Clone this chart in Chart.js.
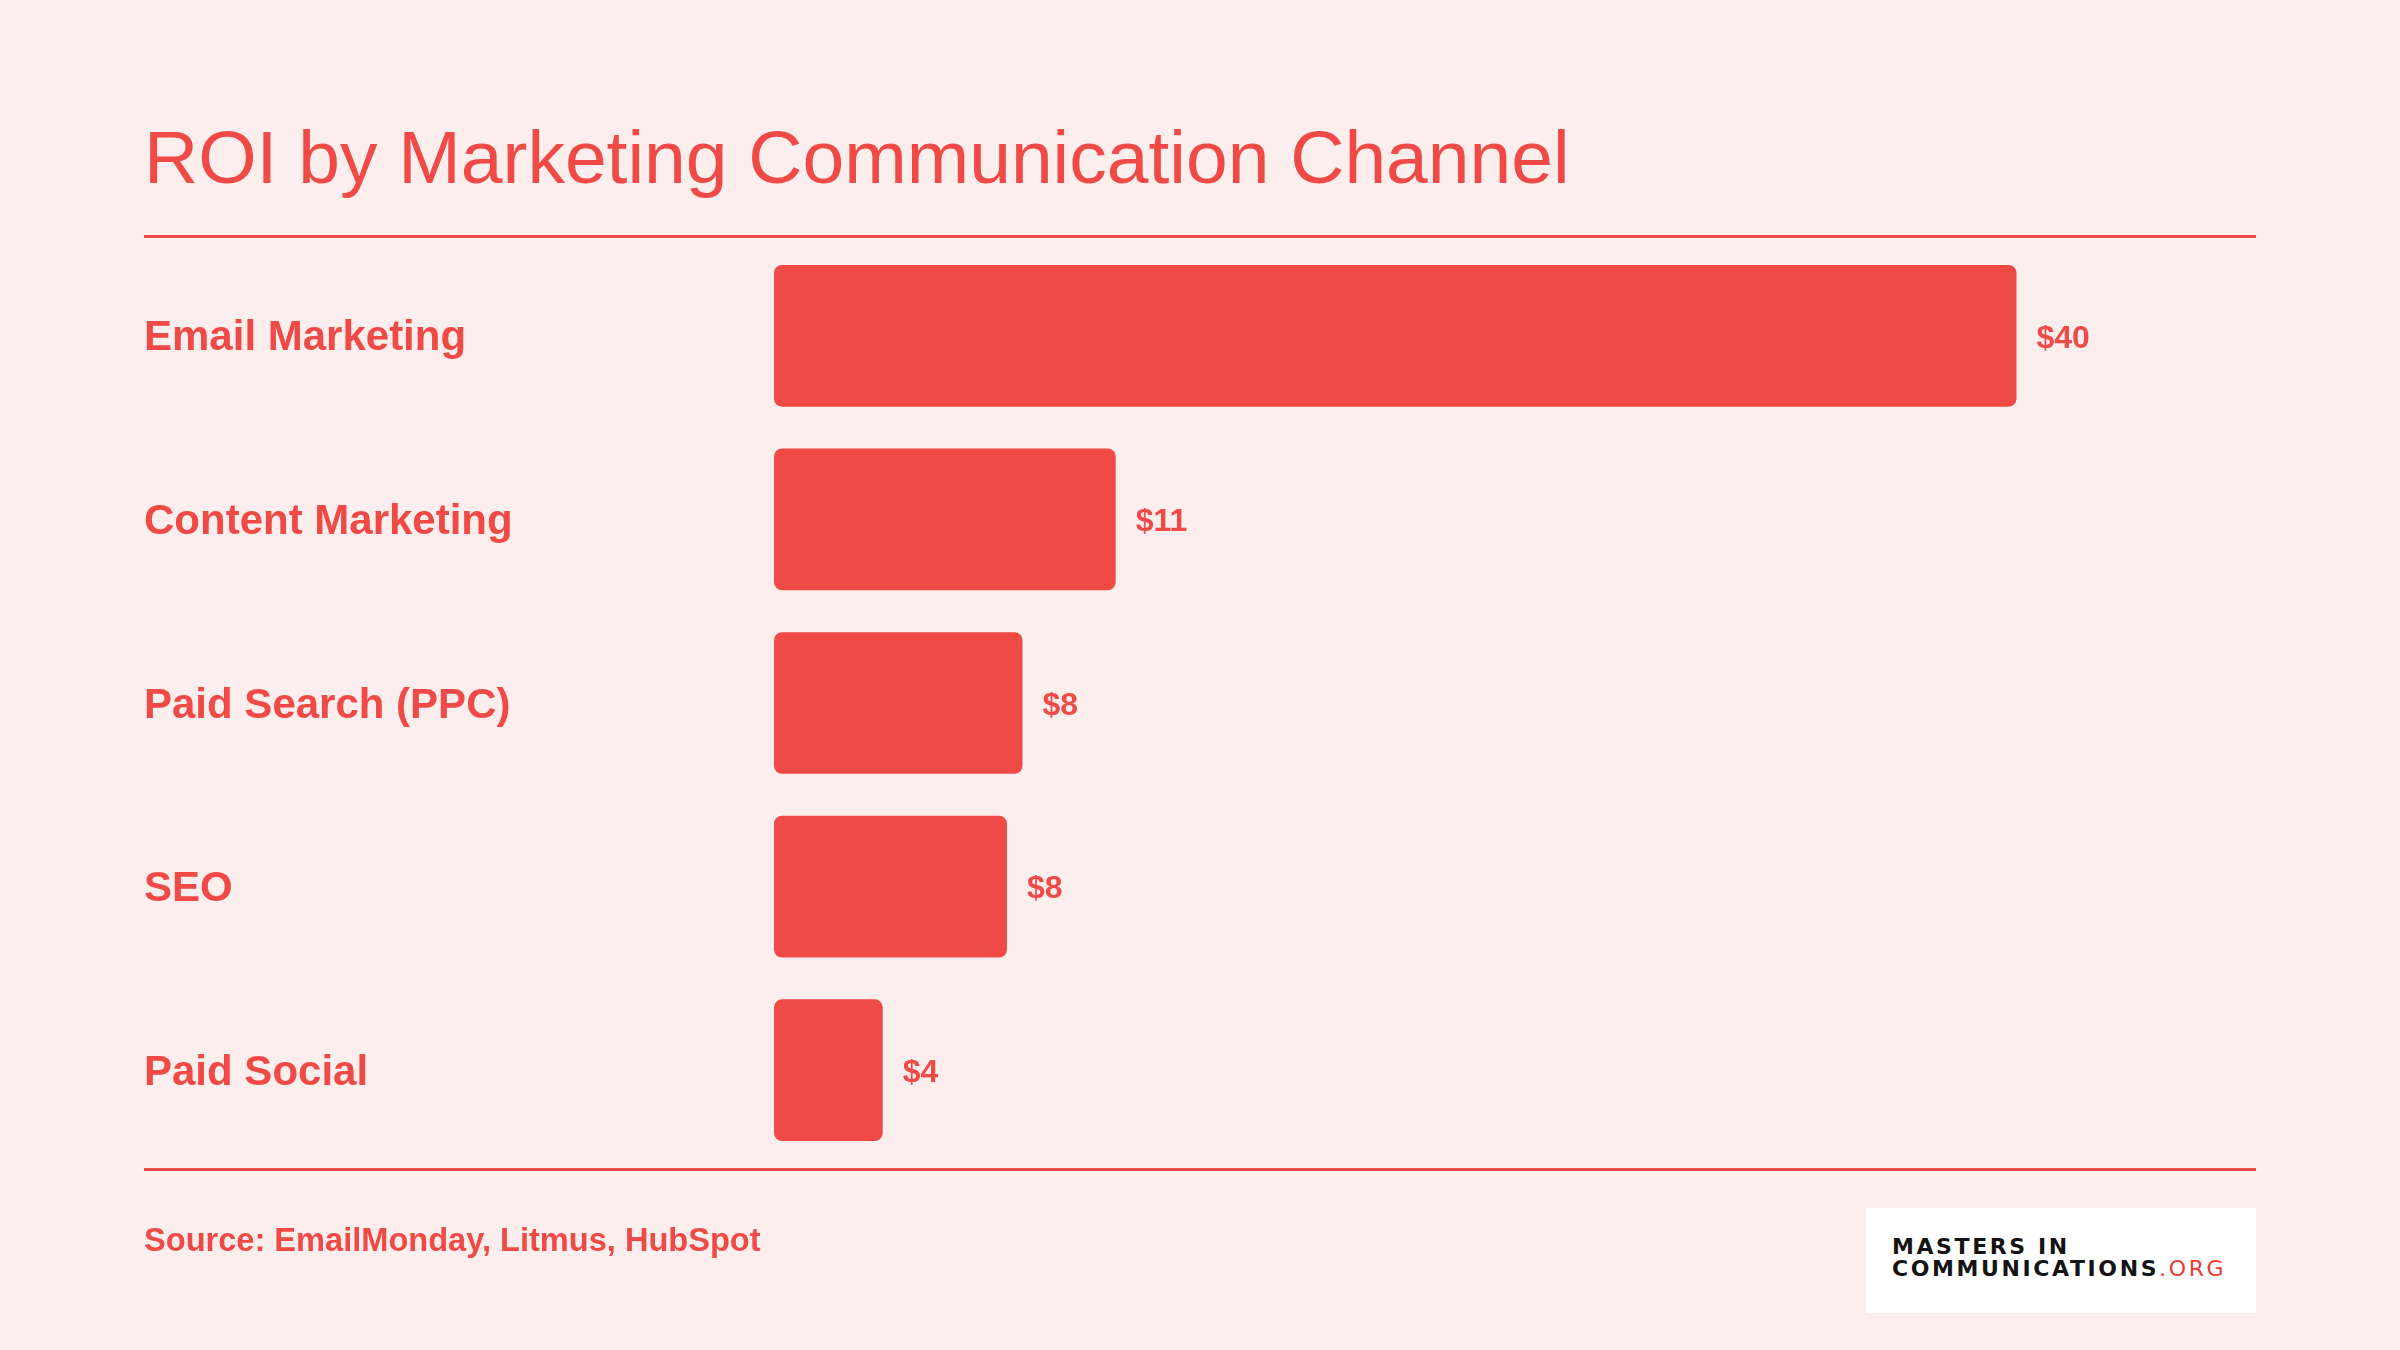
<!DOCTYPE html>
<html>
<head>
<meta charset="utf-8">
<script src="https://cdn.jsdelivr.net/npm/chart.js@4"></script>
<style>
  html, body { margin: 0; padding: 0; background: #fdeeee; }
  #wrap { position: relative; width: 2400px; height: 1350px; }
  #wrap canvas { position: absolute; left: 0; top: 0; }
  .rule { position: absolute; left: 144px; width: 2112px; height: 3px; background: #f04a47; }
  #source {
    position: absolute; left: 144px; top: 1221px;
    font: bold 32.6px "Liberation Sans", Arial, sans-serif; color: #f04a47;
  }
  #logo {
    position: absolute; left: 1866px; top: 1208px; width: 390px; height: 105px;
    background: #fff;
  }
  #logo div {
    position: absolute; left: 26px;
    font: bold 22px "DejaVu Sans", sans-serif; letter-spacing: 2.6px; color: #141414;
    line-height: 22px;
  }
  #logo span { color: #ef3b37; font-weight: normal; }
</style>
</head>
<body>
<div id="wrap">
  <canvas id="roiChart" width="2400" height="1350"></canvas>
  <div class="rule" style="top:235px"></div>
  <div class="rule" style="top:1168px"></div>
  <div id="source">Source: EmailMonday, Litmus, HubSpot</div>
  <div id="logo">
    <div style="top:28px">MASTERS IN</div>
    <div style="top:50px">COMMUNICATIONS<span>.ORG</span></div>
  </div>
</div>
<script>
var channels = ['Email Marketing', 'Content Marketing', 'Paid Search (PPC)', 'SEO', 'Paid Social'];
var roiValues = [40, 11, 8, 7.5, 3.5];
var roiLabels = ['$40', '$11', '$8', '$8', '$4'];

var RED = '#f04a47';

// draws the "$40" style labels just past the end of each bar
var valueLabels = {
	id: 'valueLabels',
	afterDatasetsDraw: function (chart) {
		var ctx = chart.ctx;
		var meta = chart.getDatasetMeta(0);
		ctx.save();
		ctx.font = 'bold 32px "Liberation Sans", Arial, sans-serif';
		ctx.fillStyle = RED;
		ctx.textAlign = 'left';
		ctx.textBaseline = 'middle';
		meta.data.forEach(function (bar, i) {
			ctx.fillText(roiLabels[i], bar.x + 20, bar.y + 3);
		});
		ctx.restore();
	},
};

var roiChart = new Chart(document.getElementById('roiChart'), {
	type: 'bar',
	data: {
		labels: channels,
		datasets: [
			{
				label: 'ROI',
				data: roiValues,
				backgroundColor: RED,
				borderRadius: 8,
				borderSkipped: false,
				categoryPercentage: 1,
				barPercentage: 0.772,
			},
		],
	},
	plugins: [valueLabels],
	options: {
		indexAxis: 'y',
		responsive: false,
		animation: false,
		layout: {
			padding: { left: 144, right: 135, top: 0, bottom: 188 },
		},
		plugins: {
			legend: { display: false },
			tooltip: { enabled: false },
			title: {
				display: true,
				text: 'ROI by Marketing Communication Channel',
				align: 'start',
				color: RED,
				font: {
					family: '"Liberation Sans", Arial, sans-serif',
					size: 75,
					weight: 'normal',
					lineHeight: 1.2,
				},
				padding: { top: 117, bottom: 37 },
			},
		},
		scales: {
			x: {
				display: false,
				min: 0,
				max: 48,
			},
			y: {
				grid: { display: false },
				border: { display: false },
				ticks: {
					color: RED,
					crossAlign: 'far',
					labelOffset: 3,
					font: {
						family: '"Liberation Sans", Arial, sans-serif',
						size: 42,
						weight: 'bold',
					},
				},
				afterFit: function (axis) {
					axis.width = 774 - 144;
				},
			},
		},
	},
});
</script>
</body>
</html>
